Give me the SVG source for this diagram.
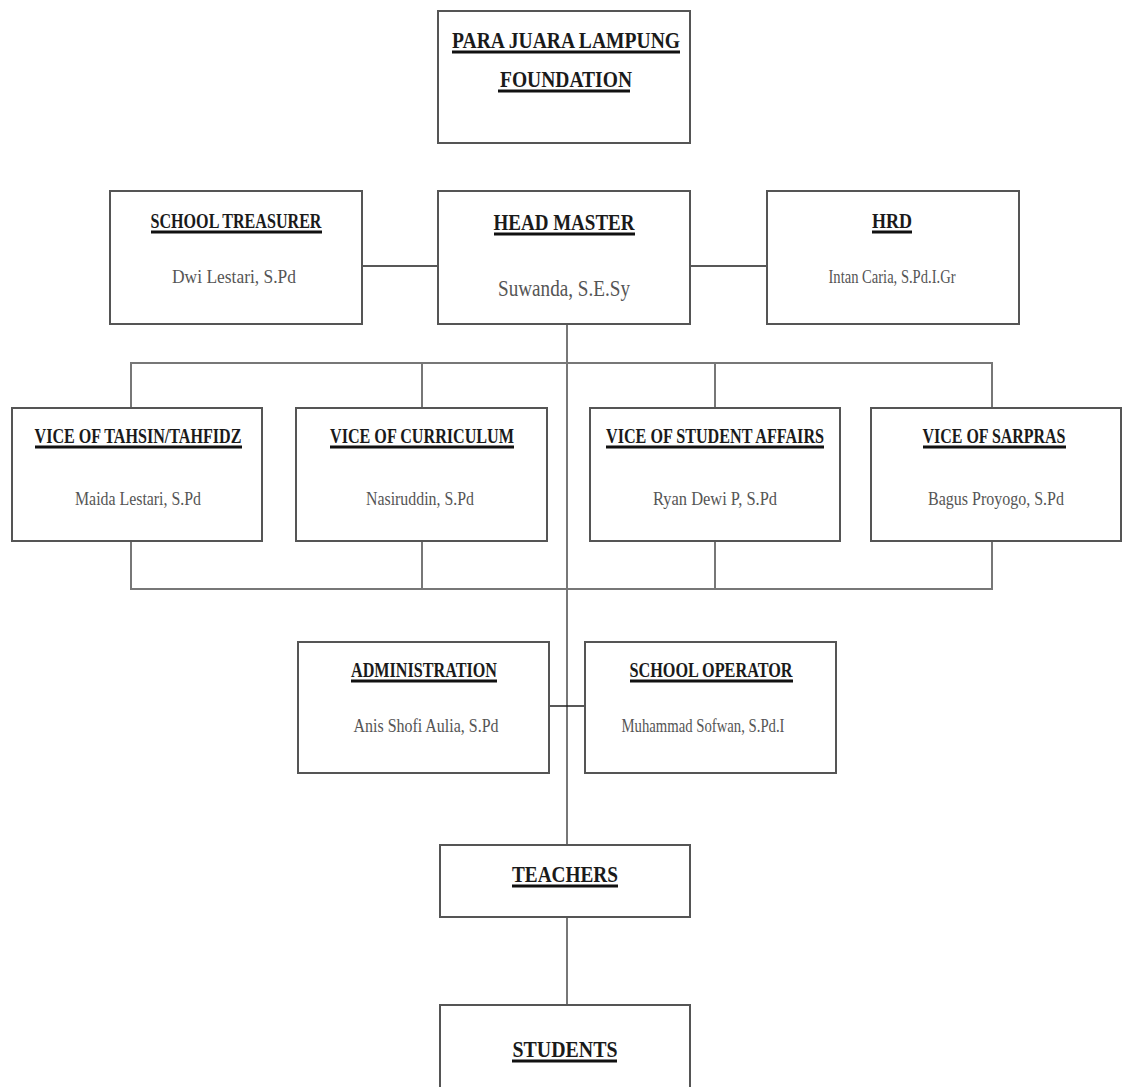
<svg xmlns="http://www.w3.org/2000/svg" width="1122" height="1087" viewBox="0 0 1122 1087">
<style>
.box{fill:#fff;stroke:#555;stroke-width:2}
.h{font-family:"Liberation Serif",serif;font-weight:bold;fill:#1a1a1a;text-anchor:middle}
.n{font-family:"Liberation Serif",serif;fill:#555;text-anchor:middle}
.u{stroke:#111;stroke-width:3}
.c{fill:none;stroke:#777;stroke-width:2}
.k{fill:none;stroke:#222;stroke-width:1.5}
</style>
<rect width="1122" height="1087" fill="#fff"/>
<g id="connectors">
<path class="c" d="M567 324 V845 M567 917 V1005"/>
<path class="c" d="M131 408 V363 H992 V408 M422 363 V408 M715 363 V408"/>
<path class="c" d="M131 541 V589 H992 V541 M422 541 V589 M715 541 V589"/>
<path class="k" d="M362 266 H438 M690 266 H767 M549 706 H585"/>
</g>
<g id="foundation">
<rect class="box" x="438" y="11" width="252" height="132"/>
<text class="h" x="566" y="48" font-size="24" textLength="228" lengthAdjust="spacingAndGlyphs">PARA JUARA LAMPUNG</text>
<line class="u" x1="452" y1="52" x2="680" y2="52"/>
<text class="h" x="566" y="87" font-size="24" textLength="132" lengthAdjust="spacingAndGlyphs">FOUNDATION</text>
<line class="u" x1="498" y1="91" x2="630" y2="91"/>
</g>
<g id="treasurer">
<rect class="box" x="110" y="191" width="252" height="133"/>
<text class="h" x="236" y="228" font-size="20" textLength="171" lengthAdjust="spacingAndGlyphs">SCHOOL TREASURER</text>
<line class="u" x1="151" y1="232" x2="322" y2="232"/>
<text class="n" x="234" y="283" font-size="19" textLength="124" lengthAdjust="spacingAndGlyphs">Dwi Lestari, S.Pd</text>
</g>
<g id="headmaster">
<rect class="box" x="438" y="191" width="252" height="133"/>
<text class="h" x="564" y="230" font-size="24" textLength="141" lengthAdjust="spacingAndGlyphs">HEAD MASTER</text>
<line class="u" x1="494" y1="234" x2="635" y2="234"/>
<text class="n" x="564" y="296" font-size="24" textLength="132" lengthAdjust="spacingAndGlyphs">Suwanda, S.E.Sy</text>
</g>
<g id="hrd">
<rect class="box" x="767" y="191" width="252" height="133"/>
<text class="h" x="892" y="228" font-size="20" textLength="40" lengthAdjust="spacingAndGlyphs">HRD</text>
<line class="u" x1="872" y1="232" x2="912" y2="232"/>
<text class="n" x="892" y="283" font-size="19" textLength="127" lengthAdjust="spacingAndGlyphs">Intan Caria, S.Pd.I.Gr</text>
</g>
<g id="vice-tahsin">
<rect class="box" x="12" y="408" width="250" height="133"/>
<text class="h" x="138" y="443" font-size="20" textLength="207" lengthAdjust="spacingAndGlyphs">VICE OF TAHSIN/TAHFIDZ</text>
<line class="u" x1="35" y1="447" x2="242" y2="447"/>
<text class="n" x="138" y="505" font-size="19" textLength="126" lengthAdjust="spacingAndGlyphs">Maida Lestari, S.Pd</text>
</g>
<g id="vice-curriculum">
<rect class="box" x="296" y="408" width="251" height="133"/>
<text class="h" x="422" y="443" font-size="20" textLength="184" lengthAdjust="spacingAndGlyphs">VICE OF CURRICULUM</text>
<line class="u" x1="330" y1="447" x2="514" y2="447"/>
<text class="n" x="420" y="505" font-size="19" textLength="108" lengthAdjust="spacingAndGlyphs">Nasiruddin, S.Pd</text>
</g>
<g id="vice-student">
<rect class="box" x="590" y="408" width="250" height="133"/>
<text class="h" x="715" y="443" font-size="20" textLength="218" lengthAdjust="spacingAndGlyphs">VICE OF STUDENT AFFAIRS</text>
<line class="u" x1="606" y1="447" x2="824" y2="447"/>
<text class="n" x="715" y="505" font-size="19" textLength="124" lengthAdjust="spacingAndGlyphs">Ryan Dewi P, S.Pd</text>
</g>
<g id="vice-sarpras">
<rect class="box" x="871" y="408" width="250" height="133"/>
<text class="h" x="994" y="443" font-size="20" textLength="143" lengthAdjust="spacingAndGlyphs">VICE OF SARPRAS</text>
<line class="u" x1="923" y1="447" x2="1066" y2="447"/>
<text class="n" x="996" y="505" font-size="19" textLength="136" lengthAdjust="spacingAndGlyphs">Bagus Proyogo, S.Pd</text>
</g>
<g id="administration">
<rect class="box" x="298" y="642" width="251" height="131"/>
<text class="h" x="424" y="677" font-size="20" textLength="146" lengthAdjust="spacingAndGlyphs">ADMINISTRATION</text>
<line class="u" x1="351" y1="681" x2="497" y2="681"/>
<text class="n" x="426" y="732" font-size="19" textLength="145" lengthAdjust="spacingAndGlyphs">Anis Shofi Aulia, S.Pd</text>
</g>
<g id="operator">
<rect class="box" x="585" y="642" width="251" height="131"/>
<text class="h" x="711" y="677" font-size="20" textLength="163" lengthAdjust="spacingAndGlyphs">SCHOOL OPERATOR</text>
<line class="u" x1="630" y1="681" x2="793" y2="681"/>
<text class="n" x="703" y="732" font-size="19" textLength="163" lengthAdjust="spacingAndGlyphs">Muhammad Sofwan, S.Pd.I</text>
</g>
<g id="teachers">
<rect class="box" x="440" y="845" width="250" height="72"/>
<text class="h" x="565" y="882" font-size="24" textLength="106" lengthAdjust="spacingAndGlyphs">TEACHERS</text>
<line class="u" x1="512" y1="886" x2="618" y2="886"/>
</g>
<g id="students">
<rect class="box" x="440" y="1005" width="250" height="100"/>
<text class="h" x="565" y="1057" font-size="24" textLength="105" lengthAdjust="spacingAndGlyphs">STUDENTS</text>
<line class="u" x1="512" y1="1061" x2="617" y2="1061"/>
</g>
</svg>
